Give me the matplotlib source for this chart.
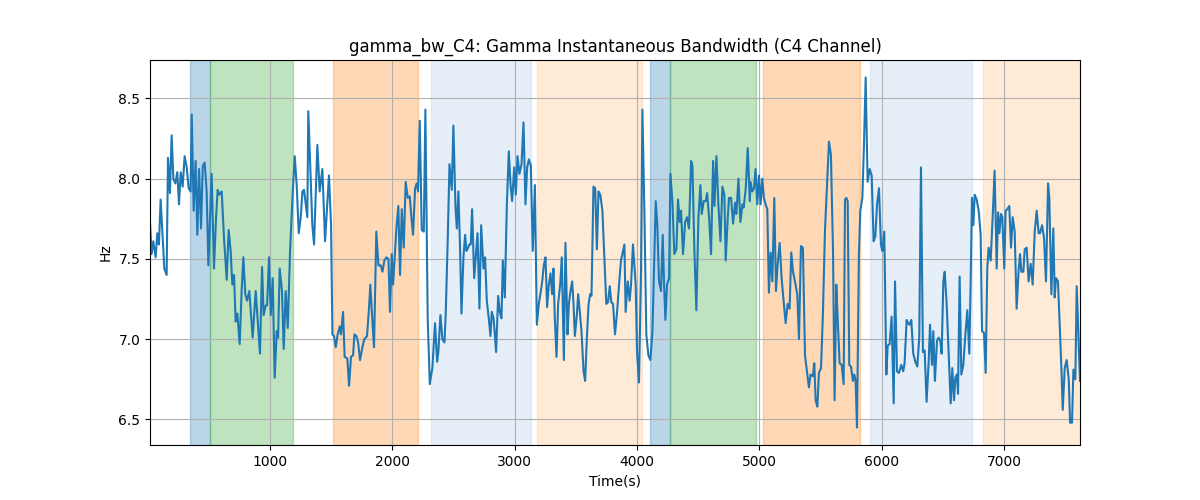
import matplotlib
matplotlib.use("Agg")
import matplotlib.pyplot as plt

# signal in six stretches
t1 = [19, 32, 46, 65, 79, 92, 106, 120, 136, 155, 166, 182, 196, 210, 226, 242, 256, 270, 286, 302,
      319, 335, 351, 360, 376, 392, 406, 420, 436, 450, 466, 482, 496, 523, 542, 559, 572, 586, 605, 624,
      646, 662, 678, 692, 706, 719, 733, 752, 768, 782, 798, 812, 831, 858, 883, 918, 935, 948, 965, 976,
      992, 1006, 1022, 1038, 1055, 1066, 1079, 1098, 1112, 1128, 1145, 1164, 1186, 1202, 1218, 1235, 1251, 1265, 1278, 1305]
v1 = [7.73, 7.53, 7.61, 7.51, 7.66, 7.59, 7.87, 7.67, 7.44, 7.40, 8.13, 7.91, 8.27, 8.00, 7.97, 8.04, 7.84, 8.04, 7.95, 8.14,
      8.07, 7.94, 7.92, 8.40, 7.80, 8.11, 7.65, 8.06, 7.69, 8.08, 8.10, 7.92, 7.46, 8.03, 7.44, 7.76, 7.93, 7.90, 7.92, 7.63,
      7.37, 7.68, 7.55, 7.34, 7.40, 7.11, 7.16, 6.97, 7.30, 7.51, 7.28, 7.24, 7.30, 7.01, 7.30, 6.91, 7.45, 7.15, 7.21, 7.21,
      7.51, 7.15, 7.38, 6.76, 7.05, 7.01, 7.44, 7.30, 6.94, 7.30, 7.07, 7.55, 7.92, 8.14, 7.96, 7.66, 7.76, 7.92, 7.93, 7.76]

t2 = [1313, 1346, 1360, 1387, 1406, 1428, 1450, 1482, 1499, 1510, 1523, 1537, 1553, 1570, 1580, 1597, 1610, 1632, 1646, 1662,
      1679, 1690, 1706, 1720, 1736, 1755, 1771, 1793, 1809, 1820, 1837, 1850, 1869, 1886, 1905, 1919, 1935, 1951, 1968, 1981,
      1995, 2006, 2019, 2033, 2049, 2063, 2077, 2093, 2109, 2126, 2142, 2156, 2169, 2186, 2199, 2210, 2224, 2240, 2257, 2270,
      2289, 2306, 2327, 2349, 2366, 2376, 2393, 2409, 2426, 2436]
v2 = [8.42, 7.71, 7.59, 8.21, 7.92, 8.06, 7.61, 8.02, 7.71, 7.03, 7.02, 6.95, 7.03, 7.08, 7.03, 7.17, 6.89, 6.88, 6.71, 6.89,
      6.90, 7.03, 7.02, 6.98, 6.87, 6.95, 7.00, 7.02, 7.19, 7.34, 7.11, 6.95, 7.67, 7.46, 7.46, 7.42, 7.49, 7.51, 7.50, 7.17,
      7.53, 7.34, 7.51, 7.69, 7.83, 7.40, 7.81, 7.57, 7.98, 7.88, 7.89, 7.76, 7.65, 7.94, 7.97, 7.92, 8.36, 7.68, 7.67, 8.43,
      7.13, 6.72, 6.82, 7.10, 6.86, 6.92, 7.15, 7.00, 6.98, 7.15]

t3 = [2453, 2467, 2486, 2499, 2516, 2527, 2540, 2554, 2565, 2581, 2595, 2606, 2619, 2630, 2641, 2652, 2669, 2685, 2696, 2712,
      2726, 2737, 2745, 2758, 2772, 2788, 2802, 2813, 2827, 2838, 2848, 2865, 2878, 2892, 2903, 2919, 2936, 2952, 2966, 2979,
      2996, 3009, 3023, 3039, 3056, 3072, 3088, 3102, 3116, 3132, 3148, 3165, 3181, 3197, 3214, 3225, 3238, 3252, 3265, 3279,
      3293, 3306, 3317, 3328, 3342, 3355, 3372, 3385, 3402, 3415, 3432, 3443, 3456, 3470, 3481, 3492, 3508, 3519, 3530, 3546,
      3563, 3576, 3590, 3604, 3617, 3628, 3644, 3658, 3672, 3685]
v3 = [7.63, 8.09, 7.93, 8.33, 7.82, 7.69, 7.92, 7.55, 7.16, 7.51, 7.65, 7.55, 7.57, 7.59, 7.59, 7.81, 7.38, 7.55, 7.66, 7.19,
      7.71, 7.55, 7.44, 7.51, 7.24, 7.13, 7.02, 7.17, 7.13, 7.03, 6.92, 7.27, 7.17, 7.13, 7.49, 7.26, 7.84, 8.17, 7.96, 7.86,
      8.07, 7.90, 8.14, 8.03, 8.09, 8.35, 7.84, 8.07, 8.12, 8.08, 7.55, 7.96, 7.09, 7.22, 7.30, 7.36, 7.46, 7.51, 7.20, 7.34,
      7.41, 7.28, 7.44, 7.13, 6.89, 7.22, 7.34, 7.51, 6.87, 7.60, 7.03, 7.22, 7.30, 7.36, 7.22, 7.02, 7.15, 7.28, 7.19, 7.05,
      6.80, 6.74, 7.01, 7.22, 7.28, 7.27, 7.95, 7.94, 7.56, 7.92]

t4 = [3700, 3717, 3733, 3749, 3763, 3777, 3790, 3804, 3820, 3837, 3853, 3869, 3886, 3897, 3907, 3924, 3940, 3951, 3967, 3978,
      3989, 4000, 4016, 4033, 4044, 4060, 4076, 4093, 4109, 4126, 4139, 4153, 4166, 4180, 4196, 4210, 4221, 4232, 4245, 4262,
      4273, 4289, 4305, 4322, 4335, 4349, 4360, 4376, 4393, 4409, 4425, 4442, 4453, 4469, 4485, 4502, 4518, 4529, 4545, 4562,
      4573, 4589, 4605, 4622, 4633, 4649, 4665, 4682, 4698, 4714, 4725, 4742, 4752, 4769, 4785, 4802, 4812, 4829, 4845, 4862,
      4872, 4889, 4905, 4922]
v4 = [7.90, 7.80, 7.51, 7.22, 7.23, 7.33, 7.23, 7.22, 7.03, 7.17, 7.34, 7.49, 7.55, 7.59, 7.17, 7.36, 7.24, 7.34, 7.59, 7.46,
      7.34, 6.92, 6.73, 7.44, 8.43, 7.80, 7.03, 6.90, 6.87, 7.05, 7.44, 7.86, 7.71, 7.36, 7.30, 7.65, 7.34, 7.12, 7.34, 7.38,
      8.03, 7.86, 7.53, 7.56, 7.87, 7.73, 7.80, 7.53, 7.73, 7.76, 7.69, 8.11, 8.08, 7.55, 7.18, 7.76, 7.96, 7.78, 7.86, 7.86,
      7.91, 7.76, 7.53, 8.11, 7.83, 8.14, 7.84, 7.61, 7.95, 7.90, 7.49, 7.76, 7.88, 7.88, 7.72, 7.85, 7.78, 8.00, 7.73, 7.84,
      7.82, 7.94, 8.19, 7.86]

t5 = [4928, 4942, 4956, 4969, 4983, 4997, 5010, 5024, 5037, 5051, 5065, 5078, 5092, 5106, 5122, 5136, 5149, 5166, 5182, 5198,
      5215, 5231, 5247, 5261, 5275, 5291, 5310, 5324, 5340, 5356, 5373, 5389, 5405, 5419, 5438, 5449, 5460, 5474, 5487, 5504,
      5520, 5536, 5553, 5569, 5585, 5602, 5615, 5629, 5640, 5656, 5673, 5689, 5700, 5711, 5722, 5735, 5749, 5765, 5776, 5787,
      5798, 5814, 5825, 5842, 5855, 5869, 5885, 5902, 5918, 5934, 5948, 5962, 5978, 5994, 6005, 6021, 6038, 6049, 6065, 6081,
      6098, 6109, 6125, 6141]
v5 = [7.98, 7.92, 7.94, 8.06, 7.84, 8.02, 7.84, 8.00, 7.88, 7.84, 7.81, 7.29, 7.54, 7.36, 7.88, 7.30, 7.46, 7.60, 7.38, 7.24,
      7.10, 7.22, 7.19, 7.54, 7.42, 7.36, 7.28, 7.00, 7.58, 7.57, 6.90, 6.80, 6.70, 6.78, 6.77, 6.85, 6.62, 6.58, 6.79, 6.82,
      7.17, 7.67, 7.96, 8.23, 8.15, 7.55, 6.62, 7.34, 7.13, 6.85, 6.84, 6.72, 7.87, 7.88, 7.86, 6.84, 6.83, 6.74, 6.78, 6.74,
      6.45, 7.53, 7.80, 7.88, 8.21, 8.63, 7.98, 8.06, 8.02, 7.61, 7.64, 7.84, 7.94, 7.59, 7.55, 7.67, 6.78, 6.96, 6.97, 7.14,
      6.60, 7.36, 6.80, 6.79]

t6 = [6160, 6176, 6187, 6204, 6215, 6228, 6242, 6258, 6275, 6291, 6307, 6321, 6337, 6351, 6367, 6384, 6395, 6411, 6422, 6435,
      6452, 6465, 6479, 6490, 6504, 6515, 6531, 6547, 6564, 6577, 6591, 6602, 6615, 6624, 6637, 6651, 6667, 6684, 6700, 6716,
      6727, 6738, 6749, 6760, 6776, 6793, 6809, 6820, 6836, 6850, 6863, 6874, 6891, 6907, 6923, 6940, 6951, 6962, 6975, 6986,
      7002, 7013, 7027, 7043, 7057, 7071, 7087, 7103, 7120, 7131, 7142, 7158, 7169, 7185, 7201, 7218, 7234, 7251, 7267, 7283,
      7294, 7311, 7327, 7343, 7360, 7370, 7387, 7403, 7414, 7425, 7441, 7458, 7469, 7480, 7496, 7512, 7529, 7540, 7556, 7567,
      7583, 7594, 7621]
v6 = [6.84, 6.80, 6.85, 7.12, 7.10, 7.09, 7.12, 6.91, 6.86, 6.83, 7.01, 8.07, 6.92, 6.93, 6.61, 6.86, 7.09, 6.84, 7.05, 6.74,
      6.99, 7.01, 6.99, 6.91, 7.36, 7.42, 7.22, 6.92, 6.60, 6.82, 6.62, 6.76, 6.78, 6.66, 7.39, 6.78, 6.84, 7.03, 7.18, 6.91,
      7.34, 7.88, 7.71, 7.90, 7.87, 7.80, 7.65, 7.05, 7.04, 6.79, 7.44, 7.57, 7.49, 7.76, 8.05, 7.44, 7.79, 7.66, 7.78, 7.76,
      7.44, 7.80, 7.81, 7.83, 7.57, 7.76, 7.67, 7.19, 7.44, 7.53, 7.42, 7.42, 7.56, 7.57, 7.36, 7.47, 7.34, 7.67, 7.80, 7.66,
      7.66, 7.71, 7.63, 7.36, 7.97, 7.88, 7.28, 7.69, 7.26, 7.38, 7.36, 7.03, 6.82, 6.56, 6.82, 6.87, 6.75, 6.48, 6.48, 6.81,
      6.75, 7.33, 6.74]

# shaded intervals (seconds) and their kind
span_start = [346, 509, 1515, 2319, 3186, 4104, 4270, 5032, 5907, 6825]
span_end = [509, 1188, 2207, 3137, 4044, 4270, 4969, 5820, 6738, 7700]
span_kind = ["a", "b", "c", "d", "e", "a", "b", "c", "d", "e"]

kind_color = {
    "a": "#1f77b4",
    "b": "#2ca02c",
    "c": "#ff7f0e",
    "d": "#aec7e8",
    "e": "#ffbb78",
}

times = t1 + t2 + t3 + t4 + t5 + t6
vals = v1 + v2 + v3 + v4 + v5 + v6

fig, ax = plt.subplots(figsize=(12, 5), dpi=100)
for s, e, k in zip(span_start, span_end, span_kind):
    ax.axvspan(s, e, color=kind_color[k], alpha=0.3)
ax.plot(times, vals, color="tab:blue", linewidth=1.5)
ax.set_xlim(times[0], times[-1])
ax.set_title("gamma_bw_C4: Gamma Instantaneous Bandwidth (C4 Channel)")
ax.set_xlabel("Time(s)")
ax.set_ylabel("Hz")
ax.grid(True)
fig.savefig("out.png")
